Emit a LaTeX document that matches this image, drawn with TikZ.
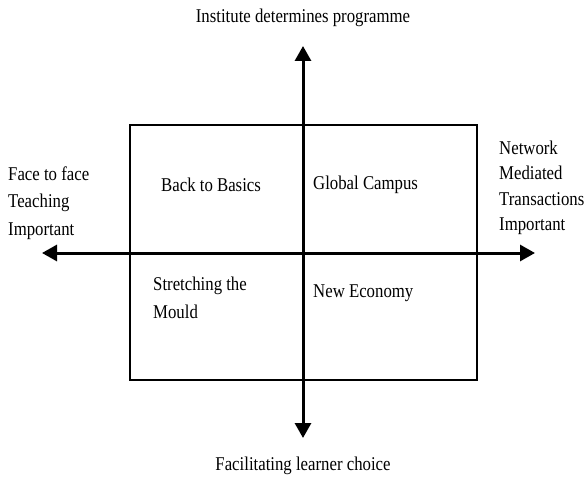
\documentclass[tikz,border=0pt]{standalone}
\usepackage{fontspec}
\setmainfont{Liberation Serif}[FakeStretch=0.86]
\usetikzlibrary{arrows.meta}

\begin{document}
\begin{tikzpicture}[x=1pt,y=-1pt,
    lbl/.style={font=\fontsize{19.5}{26}\selectfont, align=left, inner sep=0pt, anchor=west},
    axis/.style={line width=3pt, {Triangle[length=15pt,width=16pt]}-{Triangle[length=15pt,width=16pt]}}]
    \useasboundingbox (0,0) rectangle (586,481);

    % Quadros
    \draw[line width=2.5pt] (130,125) rectangle (477,380);

    % Eixos
    \coordinate (up) at (303,46);
    \coordinate (down) at (303,438);
    \coordinate (left) at (42,253);
    \coordinate (right) at (535,253);
    \draw[axis] (down) -- (up);
    \draw[axis] (left) -- (right);

    % Rótulos dos eixos
    \node[lbl, anchor=center] (ttop) at (303,18) {Institute determines programme};
    \node[lbl, anchor=center] (tbottom) at (303,466) {Facilitating learner choice};
    \node[lbl, font=\fontsize{19.5}{27.5}\selectfont] (tleft) at (8,203) {Face to face\\Teaching\\Important};
    \node[lbl, font=\fontsize{19.5}{25.5}\selectfont] (tright) at (499,188) {Network\\Mediated\\Transactions\\Important};

    % Quadrantes
    \node[lbl] (q1) at (161,185) {Back to Basics};
    \node[lbl] (q2) at (313,185) {Global Campus};
    \node[lbl, font=\fontsize{19.5}{28}\selectfont] (q3) at (153,298) {Stretching the\\Mould};
    \node[lbl] (q4) at (313,293) {New Economy};
\end{tikzpicture}
\end{document}
